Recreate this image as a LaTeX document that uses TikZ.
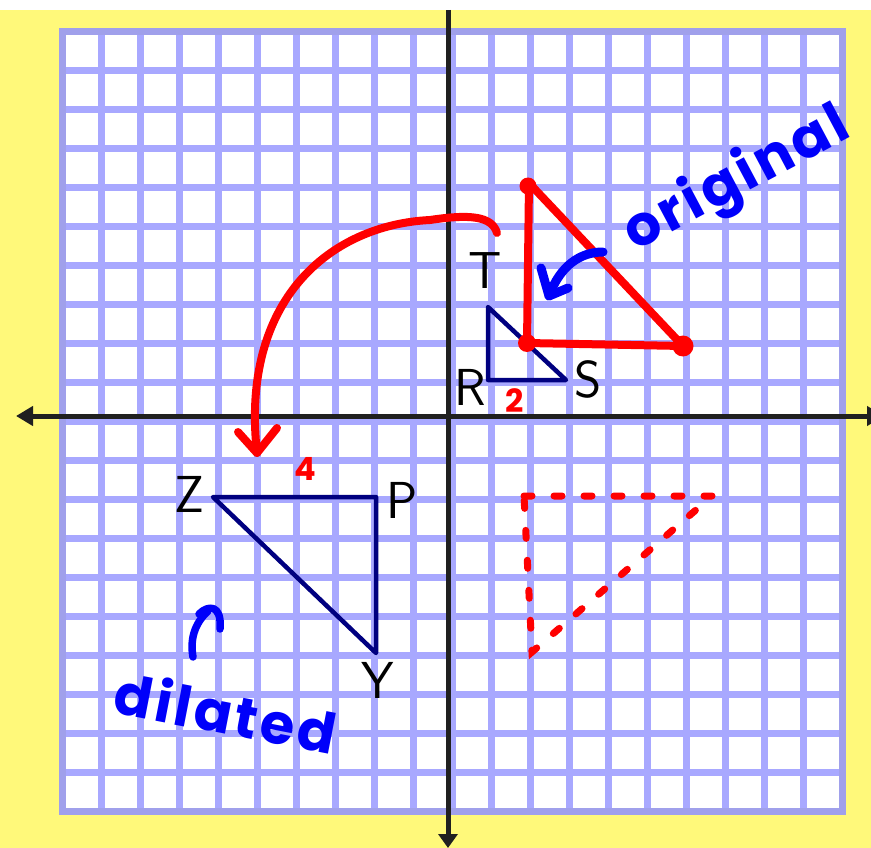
\documentclass[tikz,border=0pt]{standalone}
\usepackage{fontspec}
\newfontfamily\hand{Poppins}
\usetikzlibrary{arrows.meta}
\definecolor{bgyellow}{RGB}{255,249,122}
\definecolor{gridblue}{RGB}{168,168,255}
\definecolor{gridedge}{RGB}{160,160,235}
\definecolor{navyink}{RGB}{0,0,128}
\definecolor{blueink}{RGB}{0,0,250}
\definecolor{redink}{RGB}{255,0,0}
\definecolor{axisink}{RGB}{32,32,32}
\tikzset{
  gridline/.style={draw=gridblue,line width=7pt},
  axisline/.style={draw=axisink,line width=5pt},
  navyline/.style={draw=navyink,line width=4.5pt,line join=round,line cap=round},
  redline/.style={draw=redink,line width=8pt,line join=round,line cap=round},
  reddash/.style={draw=redink,line width=7pt,line cap=round,dash pattern=on 8pt off 22pt},
  blueline/.style={draw=blueink,line width=9pt,line cap=round,line join=round},
  lbl/.style={text=black,inner sep=0pt,font=\sffamily\fontsize{52}{52}\selectfont},
  rednum/.style={text=redink,inner sep=0pt,font=\hand\bfseries\fontsize{32}{32}\selectfont},
  bluetxt/.style={text=blueink,inner sep=0pt,font=\hand\bfseries\fontsize{56}{56}\selectfont\addfontfeatures{LetterSpace=6}}
}
\begin{document}
\begin{tikzpicture}[x=1pt,y=-1pt]
\useasboundingbox (0,0) rectangle (871,848);
\fill[white] (0,0) rectangle (871,848);
\fill[bgyellow] (0,10) rectangle (871,848);
% grid
\fill[white] (59,29) rectangle (845,814);
\foreach \k in {1,...,19} {
  \draw[gridline] ({62+39*\k},32) -- ({62+39*\k},811);
  \draw[gridline] (62,{32+38.95*\k}) -- (842,{32+38.95*\k});
}
\draw[draw=gridedge,line width=7pt] (62,32) rectangle (842,811);
% axes
\coordinate (xl) at (16,416);
\coordinate (xr) at (884,416);
\coordinate (yt) at (448,10);
\coordinate (yb) at (448,848);
\draw[axisline,{Triangle[length=17pt,width=19pt]}-{Triangle[length=17pt,width=19pt]}] (xl) -- (xr);
\draw[axisline,-{Triangle[length=14pt,width=19pt]}] (yt) -- (yb);
% small triangle RST
\coordinate (R) at (488,380);
\coordinate (T) at (488,307);
\coordinate (S) at (566,380);
\draw[navyline] (R) -- (T) -- (S) -- cycle;
\node[lbl] (lT) at (485,271) {T};
\node[lbl] (lR) at (470,387) {R};
\node[lbl] (lS) at (588,379) {S};
% big triangle ZPY
\coordinate (Z) at (213,497);
\coordinate (P) at (376,497);
\coordinate (Y) at (376,653);
\draw[navyline] (Z) -- (P) -- (Y) -- cycle;
\node[lbl] (lZ) at (189,494) {Z};
\node[lbl] (lP) at (402,500) {P};
\node[lbl] (lY) at (378,680) {Y};
% red original triangle
\coordinate (A) at (529,183);
\coordinate (B) at (527,343);
\coordinate (C) at (683,346);
\draw[redline] (A) -- (B) -- (C) -- cycle;
\fill[redink] (528,186) circle (8.5pt);
\fill[redink] (B) circle (9pt);
\fill[redink] (C) circle (10.5pt);
% red dashed triangle
\coordinate (D1) at (524,496);
\coordinate (D2) at (712,496);
\coordinate (D3) at (532,652);
\draw[reddash] (D1) -- (D2) -- (D3) -- cycle;
% red arc arrow
\coordinate (arcS) at (497,233);
\coordinate (arcM) at (430,220);
\coordinate (arcE) at (257,453);
\coordinate (headL) at (238,432);
\coordinate (headR) at (277,428);
\draw[redline] (arcS) .. controls (492,216) and (470,214) .. (arcM)
  .. controls (330,225) and (240,300) .. (arcE);
\draw[redline] (headL) -- (arcE) -- (headR);
\node[rednum] (two) at (515,401) {2};
\node[rednum] (four) at (305,469) {4};
% blue notes
\node[bluetxt,rotate=28] (orig) at (737,181) {original};
\coordinate (oa1) at (603,252);
\coordinate (oa2) at (549,296);
\draw[blueline] (oa1) .. controls (580,252) and (560,266) .. (oa2);
\draw[blueline] (541,268) -- (oa2) -- (568,288);
\node[bluetxt,rotate=-11] (dil) at (226,712) {dilated};
\coordinate (da1) at (193,657);
\coordinate (da2) at (208,611);
\draw[blueline,line width=7.5pt] (da1) .. controls (190,640) and (194,624) .. (da2);
\draw[blueline,line width=7.5pt] (199,614) .. controls (208,605) and (222,604) .. (220,629);
\end{tikzpicture}
\end{document}
